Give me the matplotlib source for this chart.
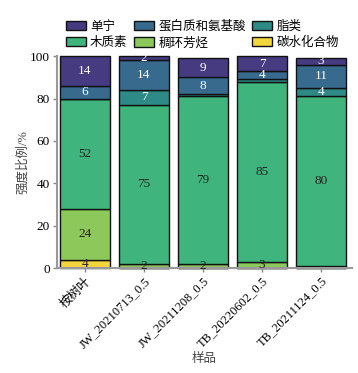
import numpy as np
import matplotlib
matplotlib.use('Agg')
from matplotlib import pyplot as plt

plt.rcParams['font.family'] = ['Liberation Serif', 'Noto Sans CJK SC']

samples = ['桉树叶', 'JW_20210713_0.5', 'JW_20211208_0.5', 'TB_20220602_0.5', 'TB_20211124_0.5']
carb = [4, 0, 0, 0, 0]
pah = [24, 2, 2, 3, 1]
lignin = [52, 75, 79, 85, 80]
lipid = [0, 7, 1, 1, 4]
protein = [6, 14, 8, 4, 11]
tannin = [14, 2, 9, 7, 3]

names = ['碳水化合物', '稠环芳烃', '木质素', '脂类', '蛋白质和氨基酸', '单宁']
series = [carb, pah, lignin, lipid, protein, tannin]
colors = ['#f2d63c', '#8cc85a', '#3fb57d', '#2d8a87', '#386a8e', '#463a80']
txtcol = ['#222222', '#222222', '#222222', 'white', 'white', 'white']

fig = plt.figure(figsize=(3.58, 3.73), dpi=100)
ax = fig.add_axes([0.159, 0.2815, 0.824, 0.568])

x = np.arange(len(samples))
bottom = np.zeros(len(samples))
handles = {}
for name, vals, c, tc in zip(names, series, colors, txtcol):
    vals = np.array(vals, dtype=float)
    b = ax.bar(x, vals, 0.85, bottom=bottom, color=c, edgecolor='#111111',
               linewidth=1.0, label=name, clip_on=False)
    handles[name] = b
    for xi, v, bt in zip(x, vals, bottom):
        if v >= 2:
            ax.text(xi, bt + v / 2, '%d' % v, ha='center', va='center',
                    color=tc, fontsize=9.5)
    bottom += vals

ax.set_xlim(-0.475, 4.525)
ax.set_ylim(0, 100)
ax.set_yticks([0, 20, 40, 60, 80, 100])
ax.set_xticks(x)
ax.set_xticklabels(samples, rotation=45, ha='right', rotation_mode='anchor', fontsize=9)
ax.tick_params(axis='y', labelsize=9.5, color='#888888', length=3, width=1, pad=2)
ax.tick_params(axis='x', color='#888888', length=3, width=1, pad=2)
for s in ['top', 'right']:
    ax.spines[s].set_visible(False)
for s in ['left', 'bottom']:
    ax.spines[s].set_color('#999999')
    ax.spines[s].set_linewidth(1.5)
ax.set_ylabel('强度比例/%', fontsize=9, color='#444444', labelpad=1)
ax.set_xlabel('样品', fontsize=9, color='#444444', labelpad=2)

order = ['单宁', '木质素', '蛋白质和氨基酸', '稠环芳烃', '脂类', '碳水化合物']
fig.legend([handles[n] for n in order], order, ncol=3, loc='center',
           bbox_to_anchor=(0.565, 0.907), frameon=False, fontsize=9,
           handlelength=1.6, handleheight=0.75, columnspacing=0.5,
           handletextpad=0.35, labelspacing=0.35)

fig.savefig('out.png', dpi=100)
